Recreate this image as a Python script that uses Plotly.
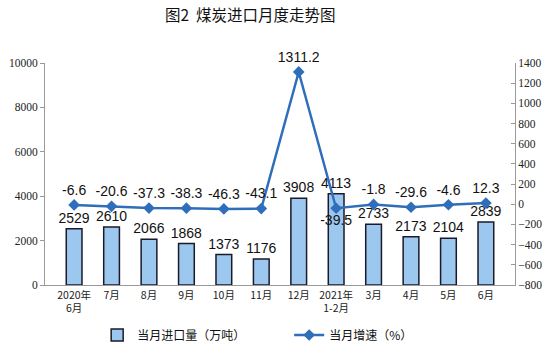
import plotly.graph_objects as go

categories = ["2020年<br>6月", "7月", "8月", "9月", "10月", "11月", "12月",
              "2021年<br>1-2月", "3月", "4月", "5月", "6月"]
imports = [2529, 2610, 2066, 1868, 1373, 1176, 3908, 4113, 2733, 2173, 2104, 2839]
growth = [-6.6, -20.6, -37.3, -38.3, -46.3, -43.1, 1311.2, -39.5, -1.8, -29.6, -4.6, 12.3]

growth_pos = ["top center"] * len(growth)
growth_pos[7] = "bottom center"

fig = go.Figure()
fig.add_trace(go.Bar(
    x=categories, y=imports, name="当月进口量（万吨）",
    marker=dict(color="#9CC8F0", line=dict(color="#1a1a2a", width=1.5)),
    width=0.42,
    text=[str(v) for v in imports], textposition="outside", constraintext="none",
    textfont=dict(family="Liberation Sans, Arial", size=14, color="#111"),
    cliponaxis=False, yaxis="y",
))
fig.add_trace(go.Scatter(
    x=categories, y=growth, name="当月增速（%）", mode="lines+markers+text",
    line=dict(color="#2F6EBA", width=2.5),
    marker=dict(symbol="diamond", size=9, color="#2F6EBA"),
    text=[f"{v:g}" for v in growth], textposition=growth_pos,
    textfont=dict(family="Liberation Sans, Arial", size=14, color="#111"),
    cliponaxis=False, yaxis="y2",
))

fig.update_layout(
    width=556, height=353,
    margin=dict(l=45, r=41, t=63, b=68, autoexpand=False),
    paper_bgcolor="white", plot_bgcolor="white",
    title=dict(text="图2  煤炭进口月度走势图", x=0.45, xanchor="center", y=0.955, yanchor="middle",
               font=dict(family="Noto Sans CJK SC", size=15.5, color="#111")),
    showlegend=True,
    legend=dict(orientation="h", x=0.111, xanchor="left", yref="container", y=0.051,
                yanchor="middle", bgcolor="rgba(0,0,0,0)",
                font=dict(family="Noto Sans CJK SC", size=12, color="#111"),
                entrywidth=147, traceorder="normal"),
    xaxis=dict(showline=True, linecolor="#999", linewidth=1, ticks="", tickangle=0,
               tickfont=dict(family="Noto Sans CJK SC", size=10.5, color="#222"),
               showgrid=False),
    yaxis=dict(range=[0, 10000], dtick=2000, tickformat="d", showline=True, linecolor="#999",
               linewidth=1, ticks="outside", ticklen=4, tickcolor="#999", showgrid=False,
               zeroline=False,
               tickfont=dict(family="Liberation Serif", size=11.5, color="#222")),
    yaxis2=dict(range=[-800, 1400], dtick=200, overlaying="y", side="right", showline=True,
                linecolor="#999", linewidth=1, ticks="inside", ticklen=4, tickcolor="#999",
                showgrid=False, zeroline=False,
                tickfont=dict(family="Liberation Serif", size=11.5, color="#222")),
)

fig.write_html("out.html")
